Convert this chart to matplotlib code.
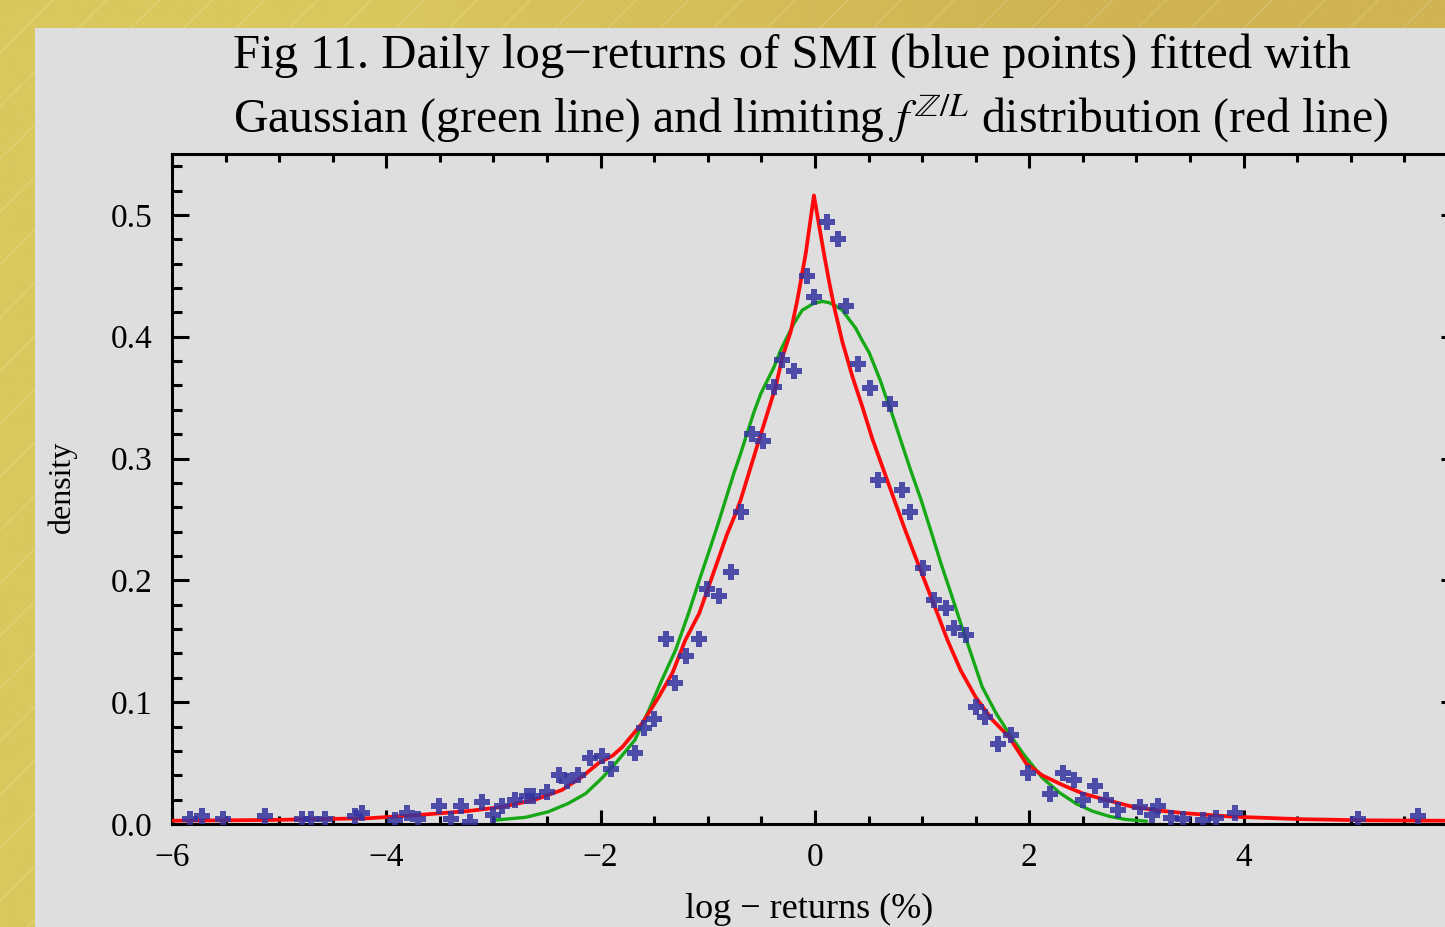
import numpy as np
import matplotlib.pyplot as plt
from matplotlib.patches import Rectangle
from matplotlib.colors import to_rgb
from matplotlib.ticker import MultipleLocator, FormatStrFormatter

plt.rcParams['font.family'] = ['Liberation Serif', 'DejaVu Serif']
plt.rcParams['mathtext.fontset'] = 'stix'

ret_x = [-5.83, -5.72, -5.52, -5.13, -4.79, -4.70, -4.57, -4.29, -4.23, -3.92,
         -3.81, -3.70, -3.51, -3.40, -3.30, -3.22, -3.11, -3.00, -2.92, -2.80,
         -2.69, -2.63, -2.50, -2.39, -2.31, -2.21, -2.10, -1.99, -1.90, -1.68,
         -1.60, -1.50, -1.39, -1.31, -1.20, -1.08, -1.01, -0.90, -0.785, -0.69,
         -0.586, -0.483, -0.383, -0.305, -0.196, -0.07, -0.01, 0.115, 0.215, 0.287,
         0.40, 0.51, 0.59, 0.70, 0.81, 0.89, 1.01, 1.11, 1.22, 1.30,
         1.41, 1.50, 1.585, 1.71, 1.83, 1.99, 2.19, 2.31, 2.42, 2.50,
         2.61, 2.72, 2.83, 3.03, 3.14, 3.20, 3.32, 3.43, 3.62, 3.74,
         3.92, 5.07, 5.63]
ret_density = [0.004, 0.0066, 0.004, 0.0066, 0.004, 0.004, 0.004, 0.0066, 0.0093, 0.003,
               0.0093, 0.004, 0.015, 0.004, 0.015, 0.002, 0.018, 0.007, 0.015, 0.020,
               0.023, 0.023, 0.026, 0.040, 0.035, 0.040, 0.054, 0.056, 0.045, 0.058,
               0.079, 0.086, 0.152, 0.116, 0.138, 0.152, 0.193, 0.187, 0.207, 0.256,
               0.320, 0.314, 0.359, 0.381, 0.372, 0.450, 0.433, 0.494, 0.480, 0.425,
               0.378, 0.358, 0.282, 0.345, 0.274, 0.256, 0.210, 0.184, 0.177, 0.1605,
               0.155, 0.096, 0.088, 0.066, 0.073, 0.042, 0.025, 0.042, 0.036, 0.020,
               0.031, 0.020, 0.0115, 0.014, 0.0074, 0.0148, 0.0047, 0.004, 0.0033, 0.0047,
               0.0088, 0.004, 0.0066]

# Gaussian fit (green line)
gauss_x = [-2.97, -2.70, -2.49, -2.30, -2.14, -1.99, -1.86, -1.68, -1.55, -1.43,
           -1.30, -1.18, -1.08, -0.975, -0.913, -0.835, -0.757, -0.694, -0.633, -0.57,
           -0.507, -0.445, -0.383, -0.32, -0.259, -0.196, -0.12, -0.01, 0.07, 0.13,
           0.19, 0.255, 0.32, 0.38, 0.44, 0.505, 0.56, 0.614, 0.66, 0.71,
           0.80, 0.894, 0.99, 1.08, 1.175, 1.27, 1.36, 1.455, 1.56, 1.69,
           1.81, 1.94, 2.12, 2.28, 2.44, 2.59, 2.75, 2.90, 3.09]
gauss_y = [0.0033, 0.0055, 0.010, 0.017, 0.025, 0.0375, 0.050, 0.069, 0.0935, 0.118,
           0.143, 0.173, 0.200, 0.2275, 0.244, 0.266, 0.288, 0.304, 0.321, 0.338,
           0.353, 0.364, 0.375, 0.389, 0.400, 0.411, 0.4217, 0.4275, 0.429, 0.428,
           0.4255, 0.4217, 0.414, 0.407, 0.397, 0.387, 0.375, 0.363, 0.351, 0.339,
           0.315, 0.290, 0.266, 0.241, 0.214, 0.189, 0.1646, 0.140, 0.1126, 0.0908,
           0.0744, 0.058, 0.038, 0.0258, 0.0165, 0.0105, 0.0062, 0.0037, 0.0023]

# limiting f^{Z/L} distribution (red line)
limit_x = [-6.04, -5.10, -4.17, -3.70, -3.23, -2.92, -2.61, -2.36, -2.17, -2.02,
           -1.89, -1.80, -1.61, -1.46, -1.33, -1.21, -1.08, -0.96, -0.82, -0.74,
           -0.694, -0.60, -0.523, -0.445, -0.367, -0.305, -0.227, -0.165, -0.087, -0.01,
           0.084, 0.13, 0.18, 0.255, 0.35, 0.44, 0.536, 0.63, 0.74, 0.83,
           0.925, 1.035, 1.13, 1.236, 1.36, 1.50, 1.657, 1.81, 1.97, 2.12,
           2.31, 2.50, 2.72, 2.97, 3.21, 3.46, 3.90, 4.52, 5.15, 5.87, 6.05]
limit_y = [0.0027, 0.0033, 0.0047, 0.0074, 0.0107, 0.014, 0.020, 0.028, 0.039, 0.050,
           0.056, 0.063, 0.083, 0.104, 0.124, 0.151, 0.173, 0.203, 0.238, 0.255,
           0.266, 0.293, 0.315, 0.337, 0.359, 0.383, 0.404, 0.430, 0.468, 0.516,
           0.468, 0.446, 0.424, 0.396, 0.367, 0.343, 0.316, 0.293, 0.266, 0.244,
           0.222, 0.197, 0.1756, 0.151, 0.126, 0.104, 0.0853, 0.0716, 0.0498, 0.040,
           0.032, 0.025, 0.0197, 0.014, 0.011, 0.0088, 0.006, 0.004, 0.003, 0.0027, 0.0026]

x_ticks = [-6, -4, -2, 0, 2, 4, 6]
x_tick_labels = ['\u22126', '\u22124', '\u22122', '0', '2', '4', '']
y_ticks = [0.0, 0.1, 0.2, 0.3, 0.4, 0.5]

W, H = 1445, 927
fig = plt.figure(figsize=(W / 100, H / 100), dpi=100)

# golden frame with faint diagonal hatching, grey panel on top
bg = fig.add_axes([0, 0, 1, 1], zorder=-10)
bg.set_xlim(0, W)
bg.set_ylim(0, H)
bg.axis('off')
c_left, c_right = np.array(to_rgb('#dac85d')), np.array(to_rgb('#d1b352'))
grad = np.array([[c_left, c_right]])
bg.imshow(grad, extent=[0, W, 0, H], aspect='auto', interpolation='bilinear', zorder=0)
for c in range(-H, W, 53):
    bg.plot([c, c + H], [0, H], color='white', alpha=0.2, lw=0.8, zorder=1)
bg.add_patch(Rectangle((35, 0), W - 35, H - 28, facecolor='#dedede', edgecolor='none', zorder=2))

ax = fig.add_axes([172 / W, 1 - 824 / H, (1458 - 172) / W, (824 - 154) / H])
ax.set_facecolor('#dedede')

ax.plot(gauss_x, gauss_y, color='#17a817', lw=2.4, zorder=3)
ax.plot(limit_x, limit_y, color='#ff0a0a', lw=2.7, zorder=3)
ax.plot(ret_x, ret_density, linestyle='none', marker='P', markersize=11,
        markeredgewidth=0, color='#3434a0', alpha=0.85, zorder=4)

ax.set_xlim(-6, 6)
ax.set_ylim(0, 0.55)
ax.set_xticks(x_ticks)
ax.set_xticklabels(x_tick_labels)
ax.set_yticks(y_ticks)
ax.xaxis.set_minor_locator(MultipleLocator(0.5))
ax.yaxis.set_minor_locator(MultipleLocator(0.02))
ax.yaxis.set_major_formatter(FormatStrFormatter('%.1f'))

for s in ax.spines.values():
    s.set_linewidth(2.2)
ax.tick_params(which='both', direction='in', top=True, right=True, width=2.2,
               labelsize=24, colors='black')
ax.tick_params(axis='x', which='major', length=10, pad=13)
ax.tick_params(axis='x', which='minor', length=6)
ax.tick_params(axis='y', which='major', length=12, pad=14)
ax.tick_params(axis='y', which='minor', length=7)

fig.text(233 / W, 1 - 68 / H, "Fig 11. Daily log\u2212returns of SMI (blue points) fitted with",
         fontsize=35, ha='left', va='baseline')
fig.text(233 / W, 1 - 133 / H,
         r"Gaussian (green line) and limiting $f^{\mathbb{Z}/L}$ distribution (red line)",
         fontsize=34.3, ha='left', va='baseline')
fig.text(62 / W, 1 - 487 / H, "density", fontsize=23, rotation=90, ha='center', va='center')
fig.text(809 / W, 1 - 918 / H, "log \u2212 returns (%)", fontsize=26, ha='center', va='baseline')

fig.savefig('out.png', dpi=100)
